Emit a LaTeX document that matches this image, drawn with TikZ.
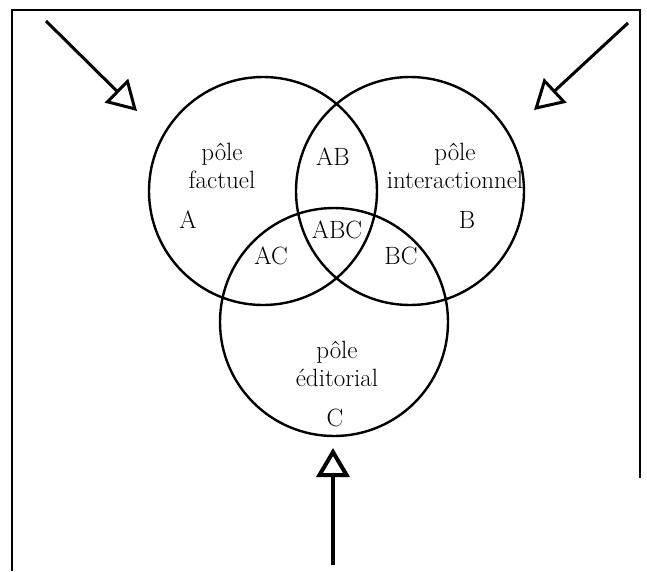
\documentclass[tikz,border=0pt]{standalone}
\usetikzlibrary{arrows.meta}
\begin{document}
\begin{tikzpicture}[x=1pt,y=-1pt,
  pole/.style={circle, draw, line width=2.4pt, minimum size=228pt, inner sep=0pt},
  lbl/.style={font=\fontsize{25}{27.5}\selectfont, align=center, inner sep=0pt},
  push/.style={line width=3pt, -{Triangle[open, length=29pt, width=33pt]}},
  frame/.style={line width=2.6pt}]
\useasboundingbox (0,0) rectangle (647,571);

% open frame
\draw[frame] (12,571) -- (12,10) -- (640,10) -- (640,478);

% the three poles
\node[pole] (cA) at (263,191) {};
\node[pole] (cB) at (410,191) {};
\node[pole] (cC) at (334,322) {};

% region labels
\node[lbl] (tA)  at (222,166) {pôle\\factuel};
\node[lbl] (lA)  at (188,220) {A};
\node[lbl] (lAB) at (333,157) {AB};
\node[lbl] (tB)  at (455,166) {pôle\\interactionnel};
\node[lbl] (lB)  at (467,220) {B};
\node[lbl] (lABC) at (337,230) {ABC};
\node[lbl] (lAC) at (271,256) {AC};
\node[lbl] (lBC) at (401,256) {BC};
\node[lbl] (tC)  at (337,364) {pôle\\éditorial};
\node[lbl] (lC)  at (335,418) {C};

% incoming arrows
\coordinate (s1) at (46,21);   \coordinate (e1) at (137,111);
\coordinate (s2) at (628,23);  \coordinate (e2) at (534,110);
\coordinate (s3) at (333,565); \coordinate (e3) at (333,448);
\draw[push] (s1) -- (e1);
\draw[push] (s2) -- (e2);
\draw[push, line width=4pt] (s3) -- (e3);
\end{tikzpicture}
\end{document}
